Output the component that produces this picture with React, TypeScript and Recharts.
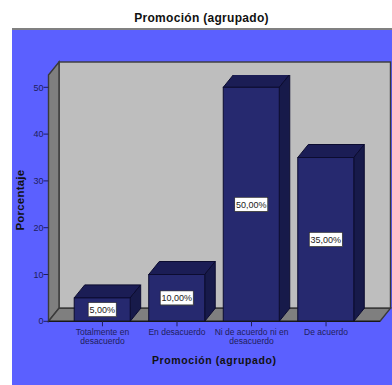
import { Bar, BarChart, Label, LabelList, ReferenceArea, XAxis, YAxis } from "recharts"

const categories = ["Totalmente en desacuerdo", "En desacuerdo", "Ni de acuerdo ni en desacuerdo", "De acuerdo"]
const tickLines = [["Totalmente en", "desacuerdo"], ["En desacuerdo"], ["Ni de acuerdo ni en", "desacuerdo"], ["De acuerdo"]]
const percents = [5, 10, 50, 35]
const yTicks = [0, 10, 20, 30, 40, 50]
const yMax = 52.63

const data = categories.map((name, i) => ({ name, value: percents[i] }))

const FONT = "'Liberation Sans', Arial, sans-serif"
const DX = 10.5
const DY = 13
const PAD = 16.7

// back wall, left wall and floor of the 3D box; the reference area stops at the axis padding
function Walls({ x: innerX, y, width: innerWidth, height }: any) {
  const x = innerX - PAD
  const width = innerWidth + PAD * 2
  const bottom = y + height
  const right = x + width
  return (
    <g stroke="#3a3a3a" strokeWidth={1.4}>
      <rect x={x + DX} y={y - DY} width={width} height={height} fill="#bebebe" />
      <polygon points={`${x},${y} ${x + DX},${y - DY} ${x + DX},${bottom - DY} ${x},${bottom}`} fill="#7f7f7f" />
      <polygon points={`${x},${bottom} ${x + DX},${bottom - DY} ${right + DX},${bottom - DY} ${right},${bottom}`} fill="#7f7f7f" />
    </g>
  )
}

function Box3D({ x, y, width, height }: any) {
  const bottom = y + height
  const right = x + width
  return (
    <g stroke="#0c0c30" strokeWidth={1}>
      <polygon points={`${x},${y} ${x + DX},${y - DY} ${right + DX},${y - DY} ${right},${y}`} fill="#1b1d55" />
      <polygon points={`${right},${y} ${right + DX},${y - DY} ${right + DX},${bottom - DY} ${right},${bottom}`} fill="#171a4a" />
      <rect x={x} y={y} width={width} height={height} fill="#26296f" />
    </g>
  )
}

function ValueBox({ x, y, width, height, value }: any) {
  const text = `${value.toFixed(2).replace(".", ",")}%`
  const w = value >= 10 ? 33 : 28
  const cx = x + width / 2
  const cy = y + height / 2
  return (
    <g>
      <rect x={cx - w / 2 + 0.5} y={cy - 6.5} width={w} height={14} fill="#555" />
      <rect x={cx - w / 2} y={cy - 7} width={w} height={14} fill="#fff" stroke="#222" strokeWidth={0.6} />
      <text x={cx} y={cy + 3.2} textAnchor="middle" fontFamily={FONT} fontSize={9} fill="#222">
        {text}
      </text>
    </g>
  )
}

function CategoryTick({ x, y, index }: any) {
  return (
    <text x={x} y={y + 7} textAnchor="middle" fontFamily={FONT} fontSize={8.5} fill="#1e1e5c">
      {tickLines[index].map((line, i) => (
        <tspan key={line} x={x} dy={i === 0 ? 0 : 8.7}>
          {line}
        </tspan>
      ))}
    </text>
  )
}

export default function App() {
  return (
    <div style={{ position: "absolute", left: 0, top: 0, width: 392, height: 385, background: "#fff", overflow: "hidden" }}>
      <div style={{ position: "absolute", left: 12, top: 28, width: 380, height: 357, background: "#5b60ff", borderTop: "2px solid #808080", boxSizing: "border-box" }} />
      <div style={{ position: "absolute", left: 0, top: 11, width: 403, textAlign: "center", fontFamily: FONT, fontWeight: 700, fontSize: 12, letterSpacing: 0.3, color: "#111" }}>
        Promoción (agrupado)
      </div>
      <div style={{ position: "absolute", left: 0, top: 0 }}>
        <BarChart width={392} height={385} data={data} margin={{ top: 75, right: 12, bottom: 0, left: 0 }} barSize={56}>
          <ReferenceArea y1={0} y2={yMax} shape={Walls} ifOverflow="visible" zIndex={-10} />
          <XAxis
            dataKey="name"
            height={63.7}
            interval={0}
            padding={{ left: PAD, right: PAD }}
            tick={CategoryTick}
            tickSize={5}
            axisLine={{ stroke: "#111" }}
            tickLine={{ stroke: "#1e1e5c" }}
          >
            <Label value="Promoción (agrupado)" position="insideBottom" offset={21.5} style={{ fontFamily: FONT, fontWeight: 700, fontSize: 10.5, letterSpacing: 0.6, fill: "#111" }} />
          </XAxis>
          <YAxis
            width={48.5}
            domain={[0, yMax]}
            ticks={yTicks}
            allowDataOverflow
            interval={0}
            tickSize={5}
            tickMargin={0}
            axisLine={false}
            tickLine={{ stroke: "#1e1e5c" }}
            tick={{ fontFamily: FONT, fontSize: 9, fill: "#1e1e5c" }}
          >
            <Label value="Porcentaje" angle={-90} position="insideLeft" offset={20} dy={2} style={{ fontFamily: FONT, fontWeight: 700, fontSize: 11.5, letterSpacing: 0.2, textAnchor: "middle", fill: "#111" }} />
          </YAxis>
          <Bar dataKey="value" shape={Box3D} isAnimationActive={false}>
            <LabelList dataKey="value" content={ValueBox} />
          </Bar>
        </BarChart>
      </div>
    </div>
  )
}
